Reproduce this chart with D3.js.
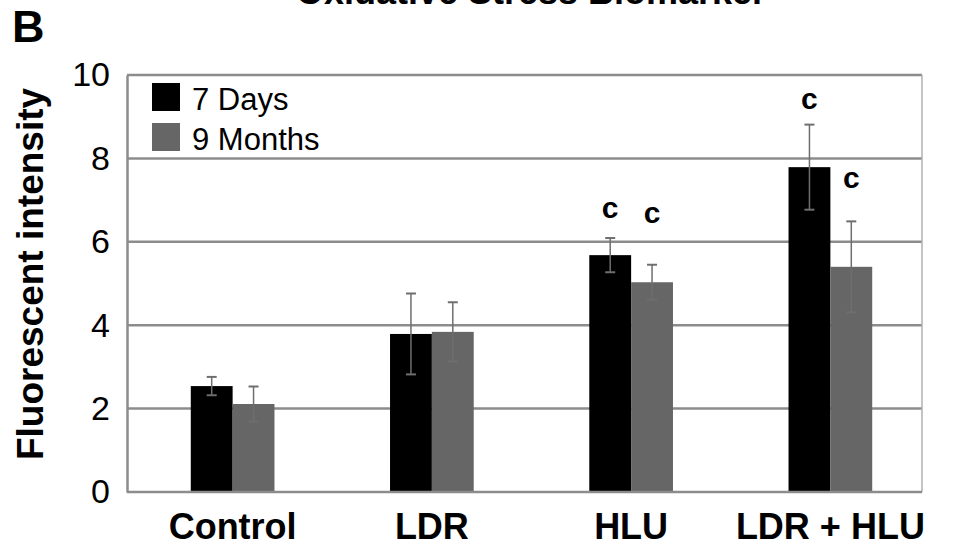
<!DOCTYPE html>
<html>
<head>
<meta charset="utf-8">
<script src="https://cdn.jsdelivr.net/npm/d3@7/dist/d3.min.js"></script>
<style>
  body { margin: 0; background: #fff; }
  svg { display: block; font-family: "Liberation Sans", Arial, sans-serif; }
</style>
</head>
<body>
<div id="chart"></div>
<script>
// data
const categories = ["Control", "LDR", "HLU", "LDR + HLU"];
const seriesNames = ["7 Days", "9 Months"];
const days7 = [2.54, 3.79, 5.68, 7.79];
const days7Err = [0.22, 0.97, 0.41, 1.02];
const months9 = [2.11, 3.84, 5.03, 5.40];
const months9Err = [0.42, 0.71, 0.42, 1.09];
// significance letters ("c") and the level they sit at, per series
const sig7 = ["", "", "c", "c"];
const sig7Level = [0, 0, 6.57, 9.18];
const sig9 = ["", "", "c", "c"];
const sig9Level = [0, 0, 6.45, 7.29];
const yTicks = [0, 2, 4, 6, 8, 10];

const colors = ["#000000", "#666666"];

const W = 958, H = 545;
const margin = { top: 75, right: 36, bottom: 53, left: 127 };
const plotW = W - margin.left - margin.right;
const plotH = H - margin.top - margin.bottom;

const svg = d3.select("#chart")
  .append("svg")
  .attr("width", W)
  .attr("height", H);

// title, cut off by the top edge as in the source image
svg.append("text")
  .attr("x", 531)
  .attr("y", 4)
  .attr("text-anchor", "middle")
  .style("font-size", "36px")
  .style("font-weight", "bold")
  .text("Oxidative Stress Biomarker");

svg.append("text")
  .attr("x", 12)
  .attr("y", 42)
  .style("font-size", "45px")
  .style("font-weight", "bold")
  .text("B");

const chart = svg.append("g")
  .attr("transform", `translate(${margin.left},${margin.top})`);

const y = d3.scaleLinear().domain([0, 10]).range([plotH, 0]);

const x0 = d3.scaleBand()
  .domain(categories)
  .range([6, plotW + 8])
  .paddingInner(0.58)
  .paddingOuter(0.29);

const x1 = d3.scaleBand()
  .domain(seriesNames)
  .range([0, x0.bandwidth()]);

// gridlines
chart.append("g")
  .selectAll("line")
  .data(yTicks.filter(d => d > 0))
  .join("line")
  .attr("x1", 0)
  .attr("x2", plotW)
  .attr("y1", d => y(d))
  .attr("y2", d => y(d))
  .attr("stroke", "#8c8c8c")
  .attr("stroke-width", 2.5);

// right border
chart.append("line")
  .attr("x1", plotW).attr("x2", plotW)
  .attr("y1", 0).attr("y2", plotH)
  .attr("stroke", "#b0b0b0")
  .attr("stroke-width", 1.5);

// y axis
const yAxis = chart.append("g")
  .call(d3.axisLeft(y).tickValues(yTicks).tickSize(0).tickPadding(17));
yAxis.select(".domain").attr("stroke", "#8c8c8c").attr("stroke-width", 2.5);
yAxis.selectAll("text")
  .style("font-size", "34px")
  .style("font-family", "Liberation Sans, Arial, sans-serif")
  .attr("fill", "#000");

// bars
const series = [
  { name: seriesNames[0], vals: days7, err: days7Err, sig: sig7, lvl: sig7Level, color: colors[0] },
  { name: seriesNames[1], vals: months9, err: months9Err, sig: sig9, lvl: sig9Level, color: colors[1] }
];

const groups = chart.append("g")
  .selectAll("g")
  .data(categories)
  .join("g")
  .attr("transform", d => `translate(${x0(d)},0)`);

groups.each(function (cat, i) {
  const g = d3.select(this);
  series.forEach(s => {
    const bx = x1(s.name);
    const bw = x1.bandwidth();
    g.append("rect")
      .attr("x", bx)
      .attr("y", y(s.vals[i]))
      .attr("width", bw)
      .attr("height", y(0) - y(s.vals[i]))
      .attr("fill", s.color);
    const cx = bx + bw / 2;
    const hi = y(s.vals[i] + s.err[i]);
    const lo = y(s.vals[i] - s.err[i]);
    g.append("line")
      .attr("x1", cx).attr("x2", cx)
      .attr("y1", hi).attr("y2", lo)
      .attr("stroke", "#6e6e6e")
      .attr("stroke-width", 1.5);
    [hi, lo].forEach(v => {
      g.append("line")
        .attr("x1", cx - 5).attr("x2", cx + 5)
        .attr("y1", v).attr("y2", v)
        .attr("stroke", "#6e6e6e")
        .attr("stroke-width", 2);
    });
    if (s.sig[i]) {
      g.append("text")
        .attr("x", cx)
        .attr("y", y(s.lvl[i]))
        .attr("text-anchor", "middle")
        .style("font-size", "30px")
        .style("font-weight", "bold")
        .text(s.sig[i]);
    }
  });
});

// x axis baseline
chart.append("line")
  .attr("x1", 0).attr("x2", plotW)
  .attr("y1", plotH).attr("y2", plotH)
  .attr("stroke", "#8c8c8c")
  .attr("stroke-width", 2.5);

// category labels
chart.append("g")
  .selectAll("text")
  .data(categories)
  .join("text")
  .attr("x", d => x0(d) + x0.bandwidth() / 2)
  .attr("y", plotH + 47)
  .attr("text-anchor", "middle")
  .style("font-size", "36px")
  .style("font-weight", "bold")
  .text(d => d);

// y title
svg.append("text")
  .attr("transform", `translate(43,274) rotate(-90)`)
  .attr("text-anchor", "middle")
  .style("font-size", "37px")
  .style("font-weight", "bold")
  .text("Fluorescent intensity");

// legend
const legend = chart.append("g").attr("transform", "translate(25,8)");
seriesNames.forEach((name, i) => {
  legend.append("rect")
    .attr("x", 0)
    .attr("y", i * 40)
    .attr("width", 28)
    .attr("height", 28)
    .attr("fill", colors[i]);
  legend.append("text")
    .attr("x", 40)
    .attr("y", i * 40 + 27)
    .style("font-size", "31px")
    .text(name);
});
</script>
</body>
</html>
